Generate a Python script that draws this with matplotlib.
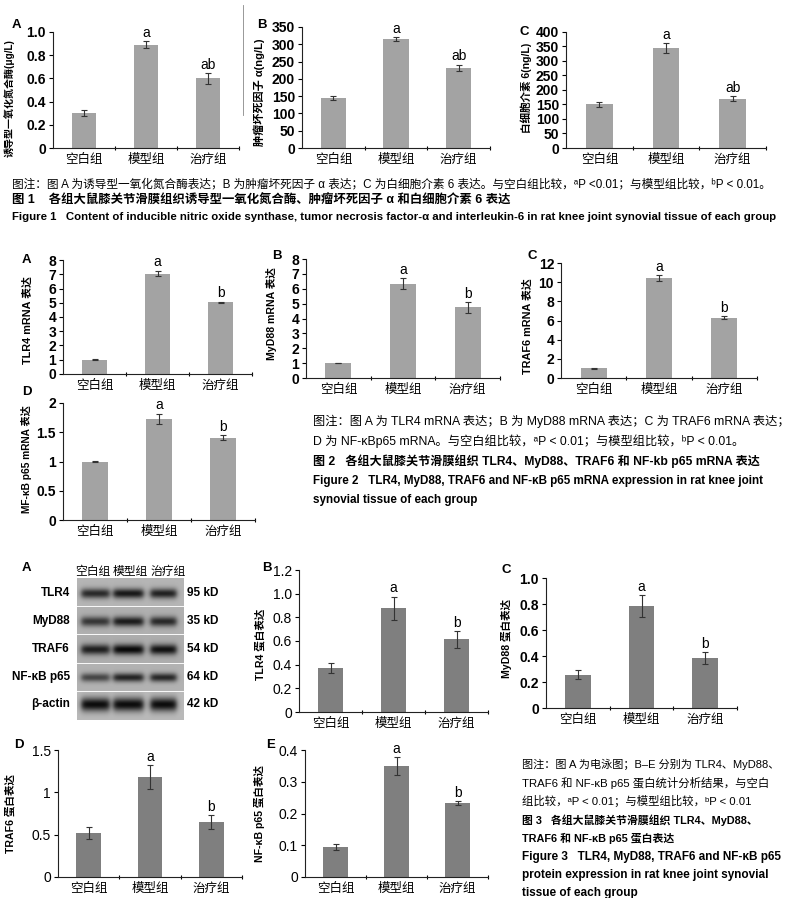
import numpy as np
import matplotlib
matplotlib.use('Agg')
import matplotlib.pyplot as plt
from matplotlib.ticker import FixedLocator
from matplotlib.lines import Line2D

plt.rcParams['font.family'] = ['Liberation Sans', 'Noto Sans CJK SC', 'DejaVu Sans']

W, H = 799, 898
fig = plt.figure(figsize=(W / 100, H / 100), dpi=100)

groups = ['空白组', '模型组', '治疗组']

# ---------------- Figure 1 data ----------------
inos_vals = [0.30, 0.89, 0.60]
inos_err = [0.025, 0.03, 0.045]
tnf_vals = [145, 315, 232]
tnf_err = [5, 6, 9]
il6_vals = [150, 345, 170]
il6_err = [7, 17, 8]
sig_fig1 = ['', 'a', 'ab']

# ---------------- Figure 2 data ----------------
tlr4_mrna = [1.0, 7.05, 5.02]
tlr4_mrna_err = [0.02, 0.2, 0.05]
myd88_mrna = [1.0, 6.35, 4.75]
myd88_mrna_err = [0.02, 0.38, 0.35]
traf6_mrna = [1.0, 10.4, 6.3]
traf6_mrna_err = [0.04, 0.3, 0.15]
nfkb_mrna = [1.0, 1.73, 1.41]
nfkb_mrna_err = [0.01, 0.09, 0.04]
sig_fig2 = ['', 'a', 'b']

# ---------------- Figure 3 data ----------------
tlr4_prot = [0.37, 0.875, 0.615]
tlr4_prot_err = [0.04, 0.1, 0.07]
myd88_prot = [0.255, 0.785, 0.385]
myd88_prot_err = [0.035, 0.085, 0.045]
traf6_prot = [0.52, 1.18, 0.65]
traf6_prot_err = [0.07, 0.14, 0.08]
nfkb_prot = [0.095, 0.35, 0.232]
nfkb_prot_err = [0.01, 0.028, 0.006]
sig_fig3 = ['', 'a', 'b']

# Western blot
blot_proteins = ['TLR4', 'MyD88', 'TRAF6', 'NF-κB p65', 'β-actin']
blot_kd = ['95 kD', '35 kD', '54 kD', '64 kD', '42 kD']
blot_intensity = [[0.80, 0.90, 0.85],
                  [0.70, 0.85, 0.78],
                  [0.82, 0.95, 0.90],
                  [0.62, 0.82, 0.80],
                  [1.00, 1.00, 1.00]]


def ftext(x, y, s, **kw):
    kw.setdefault('va', 'center')
    return fig.text(x / W, 1 - y / H, s, **kw)


def bar_panel(rect, vals, errs, sig, ylim, yticks, yticklabels, ylabel, ylab_x,
              color, bold=True, ylab_size=8, ylab_y=None):
    x0, x1, yt, yb = rect
    ax = fig.add_axes([x0 / W, 1 - yb / H, (x1 - x0) / W, (yb - yt) / H])
    ax.bar(range(3), vals, width=0.4, color=color, yerr=errs,
           error_kw=dict(ecolor='#333333', elinewidth=0.8, capsize=2, capthick=0.8))
    ax.set_xlim(-0.5, 2.5)
    ax.set_ylim(*ylim)
    for s in ['top', 'right']:
        ax.spines[s].set_visible(False)
    for s in ['left', 'bottom']:
        ax.spines[s].set_linewidth(0.8)
        ax.spines[s].set_color('#222222')
    ax.set_xticks(range(3))
    ax.set_xticklabels(groups, fontsize=9)
    ax.tick_params(axis='x', which='major', length=0, pad=4)
    ax.xaxis.set_minor_locator(FixedLocator([0.5, 1.5, 2.5]))
    ax.tick_params(axis='x', which='minor', length=3, direction='inout', width=0.8)
    ax.set_yticks(yticks)
    ax.set_yticklabels(yticklabels, fontsize=10, fontweight='bold' if bold else 'normal')
    ax.tick_params(axis='y', length=3, direction='out', width=0.8, pad=2)
    ax.set_ylabel(ylabel, fontsize=ylab_size, fontweight='bold')
    yc = 0.5 if ylab_y is None else (yb - ylab_y) / (yb - yt)
    ax.yaxis.set_label_coords((ylab_x - x0) / (x1 - x0), yc)
    for i, s in enumerate(sig):
        if s:
            ax.annotate(s, (i, vals[i] + errs[i]), xytext=(0, 1), textcoords='offset points',
                        ha='center', va='bottom', fontsize=10)
    return ax


gray1 = '#a3a3a3'
gray3 = '#7f7f7f'

# ---------------- Figure 1 ----------------
bar_panel((53, 239, 32, 148), inos_vals, inos_err, sig_fig1, (0, 1.0),
          [0, 0.2, 0.4, 0.6, 0.8, 1.0], ['0', '0.2', '0.4', '0.6', '0.8', '1.0'],
          '诱导型一氧化氮合酶(μg/L)', 15, gray1, ylab_size=7.2, ylab_y=98)
bar_panel((302, 490, 27, 148), tnf_vals, tnf_err, sig_fig1, (0, 350),
          list(range(0, 351, 50)), [str(v) for v in range(0, 351, 50)],
          '肿瘤坏死因子 α(ng/L)', 265, gray1, ylab_size=8.0, ylab_y=92)
bar_panel((566, 766, 32, 148), il6_vals, il6_err, sig_fig1, (0, 400),
          list(range(0, 401, 50)), [str(v) for v in range(0, 401, 50)],
          '白细胞介素 6(ng/L)', 532, gray1, ylab_size=7.6, ylab_y=88)
ftext(12, 25, 'A', fontsize=9.5, fontweight='bold')
ftext(257, 25, 'B', fontsize=9.5, fontweight='bold')
ftext(519, 32, 'C', fontsize=9.5, fontweight='bold')
fig.add_artist(Line2D([243 / W, 243 / W], [1 - 5 / H, 1 - 115 / H], color='#888888', lw=0.6))

ftext(12, 184, '图注：图 A 为诱导型一氧化氮合酶表达；B 为肿瘤坏死因子 α 表达；C 为白细胞介素 6 表达。与空白组比较，ᵃP <0.01；与模型组比较，ᵇP < 0.01。',
      fontsize=8.4)
ftext(12, 201, '图 1    各组大鼠膝关节滑膜组织诱导型一氧化氮合酶、肿瘤坏死因子 α 和白细胞介素 6 表达',
      fontsize=8.9, fontweight='bold')
ftext(12, 217, 'Figure 1   Content of inducible nitric oxide synthase, tumor necrosis factor-α and interleukin-6 in rat knee joint synovial tissue of each group',
      fontsize=8.2, fontweight='bold')

# ---------------- Figure 2 ----------------
bar_panel((63, 252, 260, 374), tlr4_mrna, tlr4_mrna_err, sig_fig2, (0, 8),
          list(range(9)), [str(v) for v in range(9)], 'TLR4 mRNA 表达', 33, gray1,
          ylab_size=7.8, ylab_y=320)
bar_panel((306, 500, 259, 378), myd88_mrna, myd88_mrna_err, sig_fig2, (0, 8),
          list(range(9)), [str(v) for v in range(9)], 'MyD88 mRNA 表达', 277, gray1,
          ylab_size=7.6, ylab_y=314)
bar_panel((561, 757, 263, 378), traf6_mrna, traf6_mrna_err, sig_fig2, (0, 12),
          list(range(0, 13, 2)), [str(v) for v in range(0, 13, 2)], 'TRAF6 mRNA 表达', 533, gray1,
          ylab_size=7.8, ylab_y=326)
bar_panel((63, 255, 403, 520), nfkb_mrna, nfkb_mrna_err, sig_fig2, (0, 2),
          [0, 0.5, 1, 1.5, 2], ['0', '0.5', '1', '1.5', '2'], 'MF-κB p65 mRNA 表达', 32, gray1,
          ylab_size=7.3, ylab_y=459)
ftext(22, 260, 'A', fontsize=9.5, fontweight='bold')
ftext(272, 256, 'B', fontsize=9.5, fontweight='bold')
ftext(528, 256, 'C', fontsize=9.5, fontweight='bold')
ftext(22, 392, 'D', fontsize=9.5, fontweight='bold')

cap2 = ['图注：图 A 为 TLR4 mRNA 表达；B 为 MyD88 mRNA 表达；C 为 TRAF6 mRNA 表达；',
        'D 为 NF-κBp65 mRNA。与空白组比较，ᵃP < 0.01；与模型组比较，ᵇP < 0.01。',
        '图 2   各组大鼠膝关节滑膜组织 TLR4、MyD88、TRAF6 和 NF-kb p65 mRNA 表达',
        'Figure 2   TLR4, MyD88, TRAF6 and NF-κB p65 mRNA expression in rat knee joint',
        'synovial tissue of each group']
cap2_y = [421, 441, 461, 481, 500]
cap2_w = ['normal', 'normal', 'bold', 'bold', 'bold']
cap2_s = [8.8, 8.8, 8.7, 8.4, 8.4]
for s, y, w, fs in zip(cap2, cap2_y, cap2_w, cap2_s):
    ftext(313, y, s, fontsize=fs, fontweight=w)

# ---------------- Figure 3 ----------------
# Western blot image
bx0, bx1, by0, by1 = 77, 184, 578, 720
axb = fig.add_axes([bx0 / W, 1 - by1 / H, (bx1 - bx0) / W, (by1 - by0) / H])
nr, nc = by1 - by0, bx1 - bx0
rr, cc = np.mgrid[0:nr, 0:nc].astype(float)
img = np.full((nr, nc), 0.72)
strip_edges = [0, 28, 56, 85, 113, nr]
strip_bg = [0.71, 0.69, 0.68, 0.70, 0.73]
band_rows = [15, 43, 71, 99, 126]
band_sig = [3.5, 3.5, 3.7, 3.1, 4.8]
lane_cols = [18, 51, 86]
lane_hw = [14, 15, 13]
for k in range(5):
    m = (rr >= strip_edges[k]) & (rr < strip_edges[k + 1])
    img[m] = strip_bg[k]
    for j in range(3):
        vprof = np.exp(-0.5 * ((rr - band_rows[k]) / band_sig[k]) ** 2)
        hprof = 1 / (1 + np.exp((np.abs(cc - lane_cols[j]) - lane_hw[j]) / 1.5))
        img -= blot_intensity[k][j] * 0.68 * vprof * hprof * m
for e in strip_edges[1:-1]:
    img[e, :] = 0.97
axb.imshow(img, cmap='gray', vmin=0, vmax=1, aspect='auto', interpolation='bilinear')
axb.axis('off')

for x, g in zip([93, 130, 168], groups):
    ftext(x, 572, g, fontsize=8.5, ha='center')
for y, p, kd in zip(band_rows, blot_proteins, blot_kd):
    ftext(70, by0 + y, p, fontsize=8.5, ha='right', fontweight='bold')
    ftext(187, by0 + y, kd, fontsize=8.5, ha='left', fontweight='bold')

bar_panel((299, 488, 570, 712), tlr4_prot, tlr4_prot_err, sig_fig3, (0, 1.2),
          [0, 0.2, 0.4, 0.6, 0.8, 1.0, 1.2], ['0', '0.2', '0.4', '0.6', '0.8', '1.0', '1.2'],
          'TLR4 蛋白表达', 265, gray3, bold=False, ylab_size=7.6, ylab_y=644)
bar_panel((546, 737, 578, 708), myd88_prot, myd88_prot_err, sig_fig3, (0, 1.0),
          [0, 0.2, 0.4, 0.6, 0.8, 1.0], ['0', '0.2', '0.4', '0.6', '0.8', '1.0'],
          'MyD88 蛋白表达', 512, gray3, bold=True, ylab_size=7.6, ylab_y=639)
bar_panel((58, 242, 750, 877), traf6_prot, traf6_prot_err, sig_fig3, (0, 1.5),
          [0, 0.5, 1, 1.5], ['0', '0.5', '1', '1.5'],
          'TRAF6 蛋白表达', 15, gray3, bold=False, ylab_size=7.6)
bar_panel((305, 488, 750, 877), nfkb_prot, nfkb_prot_err, sig_fig3, (0, 0.4),
          [0, 0.1, 0.2, 0.3, 0.4], ['0', '0.1', '0.2', '0.3', '0.4'],
          'NF-κB p65 蛋白表达', 265, gray3, bold=False, ylab_size=7.6)
ftext(22, 568, 'A', fontsize=9.5, fontweight='bold')
ftext(262, 568, 'B', fontsize=9.5, fontweight='bold')
ftext(502, 570, 'C', fontsize=9.5, fontweight='bold')
ftext(14, 745, 'D', fontsize=9.5, fontweight='bold')
ftext(266, 745, 'E', fontsize=9.5, fontweight='bold')

cap3 = ['图注：图 A 为电泳图；B–E 分别为 TLR4、MyD88、',
        'TRAF6 和 NF-κB p65 蛋白统计分析结果，与空白',
        '组比较，ᵃP < 0.01；与模型组比较，ᵇP < 0.01',
        '图 3   各组大鼠膝关节滑膜组织 TLR4、MyD88、',
        'TRAF6 和 NF-κB p65 蛋白表达',
        'Figure 3   TLR4, MyD88, TRAF6 and NF-κB p65',
        'protein expression in rat knee joint synovial',
        'tissue of each group']
cap3_y = [764, 783, 801, 820, 838, 857, 875, 893]
cap3_w = ['normal', 'normal', 'normal', 'bold', 'bold', 'bold', 'bold', 'bold']
cap3_s = [8.0, 8.2, 8.2, 7.8, 7.8, 8.5, 8.5, 8.5]
for s, y, w, fs in zip(cap3, cap3_y, cap3_w, cap3_s):
    ftext(522, y, s, fontsize=fs, fontweight=w)

fig.savefig('out.png', dpi=100, facecolor='white')
